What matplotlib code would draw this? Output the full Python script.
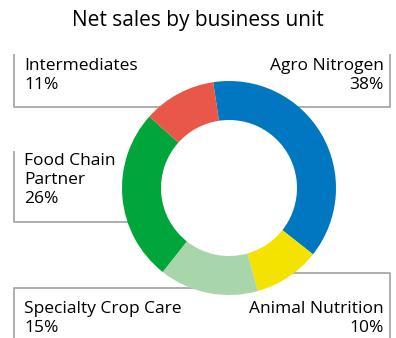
import matplotlib.pyplot as plt

# net sales share per business unit, clockwise from the top
units = ['Agro Nitrogen', 'Animal Nutrition', 'Specialty Crop Care',
         'Food Chain\nPartner', 'Intermediates']
shares = [38, 10, 15, 26, 11]
colors = ['#0077c0', '#f4e200', '#a8d5aa', '#00a63c', '#e85747']

W, H = 396, 338
plt.rcParams['font.family'] = ['Open Sans', 'DejaVu Sans']

fig = plt.figure(figsize=(W / 100, H / 100), dpi=100)
ax = fig.add_axes([0, 0, 1, 1])


def py(y):
    # pixel rows counted from the top
    return H - y


grey = '#a8a8a8'
lw = 1.3
# bracket frames around the labels
ax.plot([14, 14, 390, 390], [py(55), py(107), py(107), py(55)], color=grey, lw=lw, zorder=1)
ax.plot([14, 14, 140], [py(152), py(222), py(222)], color=grey, lw=lw, zorder=1)
ax.plot([14, 14, 200], [py(H + 5), py(288), py(288)], color=grey, lw=lw, zorder=1)
ax.plot([280, 390, 390], [py(273), py(273), py(H + 5)], color=grey, lw=lw, zorder=1)

ax.pie(shares, colors=colors, startangle=98.5, counterclock=False,
       center=(229, py(188)), radius=107,
       wedgeprops=dict(width=39, linewidth=0), frame=True)
ax.set_xlim(0, W)
ax.set_ylim(0, H)
ax.set_aspect('equal')
ax.axis('off')

ax.text(W / 2, py(26), 'Net sales by business unit', ha='center', va='baseline',
        fontsize=15, color='#000000')


def label(x, y, lines, ha):
    # one text per line, y is the baseline of the first line
    for i, s in enumerate(lines):
        ax.text(x, py(y + 19 * i), s, ha=ha, va='baseline',
                fontsize=12.5, color='#000000', zorder=5)


label(24, 70, [units[4], f'{shares[4]}%'], 'left')
label(384, 70, [units[0], f'{shares[0]}%'], 'right')
label(24, 165, units[3].split('\n') + [f'{shares[3]}%'], 'left')
label(24, 313, [units[2], f'{shares[2]}%'], 'left')
label(384, 313, [units[1], f'{shares[1]}%'], 'right')

fig.savefig('out.png', dpi=100)
